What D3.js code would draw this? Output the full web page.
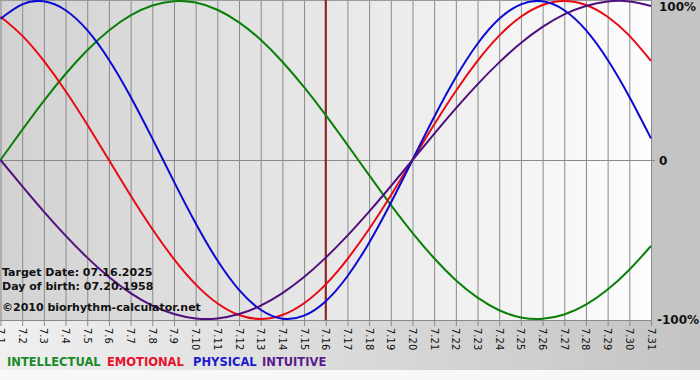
<!DOCTYPE html>
<html><head><meta charset="utf-8">
<script src="https://cdn.jsdelivr.net/npm/d3@7"></script>
<style>html,body{margin:0;padding:0;background:#fff;}svg{display:block;}</style>
</head><body>
<svg id="c" width="700" height="380"></svg>
<script>
const dayLabels = ["7.1","7.2","7.3","7.4","7.5","7.6","7.7","7.8","7.9","7.10","7.11","7.12","7.13","7.14","7.15","7.16","7.17","7.18","7.19","7.20","7.21","7.22","7.23","7.24","7.25","7.26","7.27","7.28","7.29","7.30","7.31"];
const intellectual = [0,18.9,37.2,54.1,69.0,81.5,91.0,97.2,99.9,99.0,94.5,86.6,75.6,61.8,45.8,28.2,9.5,-9.5,-28.2,-45.8,-61.8,-75.6,-86.6,-94.5,-99.0,-99.9,-97.2,-91.0,-81.5,-69.0,-54.1];
const emotional = [90.1,78.2,62.3,43.4,22.3,0,-22.3,-43.4,-62.3,-78.2,-90.1,-97.5,-100,-97.5,-90.1,-78.2,-62.3,-43.4,-22.3,0,22.3,43.4,62.3,78.2,90.1,97.5,100,97.5,90.1,78.2,62.3];
const physical = [88.8,97.9,99.8,94.2,81.7,63.1,39.8,13.6,-13.6,-39.8,-63.1,-81.7,-94.2,-99.8,-97.9,-88.8,-73.1,-52.0,-27.0,0,27.0,52.0,73.1,88.8,97.9,99.8,94.2,81.7,63.1,39.8,13.6];
const intuitive = [0,-16.5,-32.5,-47.6,-61.4,-73.6,-83.7,-91.6,-96.9,-99.7,-99.7,-96.9,-91.6,-83.7,-73.6,-61.4,-47.6,-32.5,-16.5,0,16.5,32.5,47.6,61.4,73.6,83.7,91.6,96.9,99.7,99.7,96.9];
const yTickValues = [100,0,-100];
const yTickLabels = ["100%","0","-100%"];
const targetLabel = "7.16";
const infoLines = ["Target Date: 07.16.2025","Day of birth: 07.20.1958","\u00A92010 biorhythm-calculator.net"];
const seriesNames = ["INTELLECTUAL","EMOTIONAL","PHYSICAL","INTUITIVE"];
const seriesColors = ["#0a800a","#e80a14","#0a0ad2","#50107e"];
const legendColors = ["#1a8a2a","#e8102a","#1a1ad0","#5a1a8a"];
const seriesData = [intellectual, emotional, physical, intuitive];

const svg = d3.select("#c");
const font = "'DejaVu Sans', Verdana, sans-serif";
const defs = svg.append("defs");
const g1 = defs.append("linearGradient").attr("id","pg").attr("x1","0").attr("x2","1").attr("y1","0").attr("y2","0");
g1.append("stop").attr("offset","0").attr("stop-color","#d2d2d2");
g1.append("stop").attr("offset","1").attr("stop-color","#fdfdfd");
const g2 = defs.append("linearGradient").attr("id","bg").attr("x1","0").attr("x2","1").attr("y1","0").attr("y2","0");
g2.append("stop").attr("offset","0").attr("stop-color","#f0f0f0");
g2.append("stop").attr("offset","1").attr("stop-color","#c4c4c4");

svg.append("rect").attr("x",0).attr("y",0).attr("width",700).attr("height",370).attr("fill","#c4c4c4");
svg.append("rect").attr("x",0).attr("y",321).attr("width",700).attr("height",49).attr("fill","url(#bg)");
svg.append("rect").attr("x",0).attr("y",370).attr("width",700).attr("height",10).attr("fill","#f8f8f8");

const x = d3.scaleLinear().domain([0, dayLabels.length-1]).range([0.5, 651]);
const y = d3.scaleLinear().domain([-100,100]).range([319,1]);
const idx = d3.range(dayLabels.length);

svg.append("rect").attr("x",0).attr("y",0).attr("width",651).attr("height",320).attr("fill","url(#pg)");

const xAxis = d3.axisBottom(x).tickValues(idx).tickSize(326).tickFormat("");
const gx = svg.append("g").call(xAxis);
gx.select(".domain").remove();
gx.selectAll("line").attr("stroke","#8a8a8a").attr("stroke-width",1);

svg.append("g").selectAll("text").data(idx).join("text")
  .attr("transform", d => `translate(${x(d)},328) rotate(90)`)
  .attr("dy","0.35em")
  .attr("font-family",font).attr("font-size",10).attr("fill","#111")
  .text(d => dayLabels[d]);

svg.append("line").attr("x1",0).attr("x2",655).attr("y1",y(0)+0.5).attr("y2",y(0)+0.5).attr("stroke","#8a8a8a");
svg.append("line").attr("x1",0).attr("x2",651).attr("y1",320.5).attr("y2",320.5).attr("stroke","#8a8a8a");
svg.append("line").attr("x1",0).attr("x2",651).attr("y1",0.5).attr("y2",0.5).attr("stroke","#9a9a9a");

const ti = dayLabels.indexOf(targetLabel);
svg.append("line").attr("x1",x(ti)).attr("x2",x(ti)).attr("y1",0).attr("y2",320)
  .attr("stroke","#8b1e1e").attr("stroke-width",2);

const line = d3.line().x((d,i)=>x(i)).y(d=>y(d)).curve(d3.curveNatural);
seriesData.forEach((s,k)=>{
  svg.append("path").attr("d",line(s)).attr("fill","none")
    .attr("stroke",seriesColors[k]).attr("stroke-width",2);
});

svg.append("g").selectAll("text").data(yTickValues).join("text")
  .attr("x",(d,i)=> i===2 ? 657 : 659)
  .attr("y",d => Math.min(Math.max(y(d),6),322) + 5)
  .attr("font-family",font).attr("font-size",12).attr("font-weight","bold").attr("fill","#111")
  .text((d,i)=>yTickLabels[i]);

svg.append("g").selectAll("text").data(infoLines).join("text")
  .attr("x",2).attr("y",(d,i)=>[276,290,311][i])
  .attr("font-family",font).attr("font-size",11).attr("font-weight","bold").attr("fill","#111")
  .text(d=>d);

const lx = [7,107,193,262];
svg.append("g").selectAll("text").data(seriesNames).join("text")
  .attr("x",(d,i)=>lx[i]).attr("y",366)
  .attr("font-family",font).attr("font-size",11.5).attr("font-weight","bold")
  .attr("fill",(d,i)=>legendColors[i])
  .text(d=>d);
</script>
</body></html>
